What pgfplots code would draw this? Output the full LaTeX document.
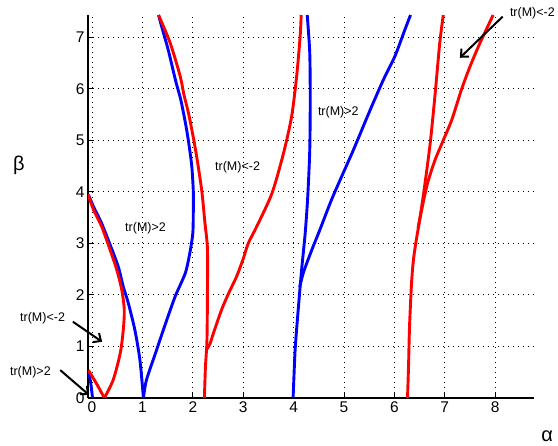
\documentclass[border=0pt]{standalone}
\usepackage{fontspec}
\setmainfont{Liberation Sans}
\usepackage{pgfplots}
\pgfplotsset{compat=1.18}
\usetikzlibrary{arrows.meta}
\begin{document}
\begin{tikzpicture}
\useasboundingbox (-88pt,-48pt) rectangle (470pt,398pt);
\begin{axis}[
  scale only axis, width=446pt, height=383pt,
  xmin=-0.08, xmax=8.77, ymin=0, ymax=7.43,
  axis x line*=bottom, axis y line*=left,
  axis line style={line width=1.2pt},
  xtick={0,...,8}, ytick={0,...,7},
  tick align=inside, major tick length=5pt,
  tick style={black, line width=1pt},
  grid=major,
  grid style={black, line width=0.9pt, dash pattern=on 1.2pt off 3.8pt},
  ticklabel style={font=\fontsize{15.5}{18}\selectfont},
  /pgf/number format/assume math mode=true,
  clip mode=individual,
  every axis plot/.append style={line width=2.9pt, line join=round, smooth, tension=0.45},
]
% blue curves
\addplot[blue] coordinates {(0.01,0) (-0.02,0.25) (-0.06,0.5)};
\addplot[blue] coordinates {(1.02,0) (0.95,0.74) (0.85,1.32) (0.72,1.84) (0.62,2.16) (0.52,2.55) (0.36,2.97) (0.19,3.39) (0.03,3.71) (-0.07,3.94)};
\addplot[blue] coordinates {(1.02,0) (1.08,0.35) (1.27,0.9) (1.45,1.42) (1.65,1.97) (1.85,2.42) (1.94,2.81) (2.0,3.2) (2.01,3.65) (2.01,4.0) (1.98,4.49) (1.92,4.94) (1.86,5.3) (1.76,5.79) (1.66,6.15) (1.51,6.76) (1.38,7.21) (1.32,7.43)};
\addplot[blue] coordinates {(3.99,0) (4.03,0.93) (4.09,1.7) (4.16,2.5) (4.23,3.2) (4.28,3.9) (4.32,4.8) (4.33,5.8) (4.32,6.7) (4.27,7.43)};
\addplot[blue] coordinates {(4.12,2.15) (4.2,2.45) (4.36,2.87) (4.52,3.26) (4.75,3.84) (5.0,4.4) (5.19,4.82) (5.52,5.59) (5.78,6.17) (6.01,6.63) (6.21,7.15) (6.32,7.43)};
% red curves
\addplot[red] coordinates {(0.245,0) (0.1,0.26) (-0.07,0.54)};
\addplot[red] coordinates {(0.245,0) (0.42,0.35) (0.56,0.87) (0.62,1.32) (0.64,1.71) (0.59,2.10) (0.49,2.49) (0.36,2.87) (0.19,3.33) (0.03,3.65) (-0.08,3.95)};
\addplot[red] coordinates {(2.23,0) (2.25,0.6) (2.28,1.1) (2.29,2.0) (2.29,2.9) (2.24,3.4) (2.18,4.0) (2.09,4.6) (2.02,5.0) (1.92,5.5) (1.82,5.9) (1.75,6.24) (1.55,6.89) (1.32,7.43)};
\addplot[red] coordinates {(2.28,0.95) (2.34,1.05) (2.41,1.26) (2.57,1.71) (2.71,2.03) (2.87,2.36) (3.0,2.7) (3.1,3.0) (3.27,3.33) (3.57,3.97) (3.80,4.75) (3.96,5.46) (4.06,6.24) (4.13,7.02) (4.15,7.43)};
\addplot[red] coordinates {(6.26,0) (6.28,0.6) (6.30,1.38) (6.34,2.23) (6.38,2.7) (6.44,3.1) (6.48,3.33) (6.58,3.97) (6.71,4.94) (6.81,5.92) (6.90,6.89) (6.97,7.43)};
\addplot[red] coordinates {(6.47,3.3) (6.64,4.1) (6.80,4.6) (6.97,5.0) (7.14,5.4) (7.33,5.98) (7.50,6.43) (7.70,6.89) (7.96,7.43)};
% annotations
\begin{scope}[every node/.style={font=\fontsize{12.5}{15}\selectfont, inner sep=0pt}]
\node[anchor=west] at (axis cs:0.655,3.30) {tr(M)>2};
\node[anchor=west] at (axis cs:2.44,4.47) {tr(M)<-2};
\node[anchor=west] at (axis cs:4.48,5.55) {tr(M)>2};
\node[anchor=west] at (axis cs:8.29,7.47) {tr(M)<-2};
\node[anchor=west] at (axis cs:-1.43,1.55) {tr(M)<-2};
\node[anchor=west] at (axis cs:-1.63,0.50) {tr(M)>2};
\end{scope}
\draw[line width=2pt, -{Straight Barb[length=6pt,width=11pt]}] (axis cs:8.15,7.40) -- (axis cs:7.30,6.60);
\draw[line width=2pt, -{Straight Barb[length=6pt,width=11pt]}] (axis cs:-0.38,1.48) -- (axis cs:0.20,1.09);
\draw[line width=2pt, -{Straight Barb[length=6pt,width=11pt]}] (axis cs:-0.63,0.54) -- (axis cs:-0.06,0.06);
\node[font=\fontsize{20}{24}\selectfont] at (axis cs:9.03,-0.74) {α};
\node[font=\fontsize{20}{24}\selectfont] at (axis cs:-1.45,4.52) {β};
\end{axis}
\end{tikzpicture}
\end{document}
